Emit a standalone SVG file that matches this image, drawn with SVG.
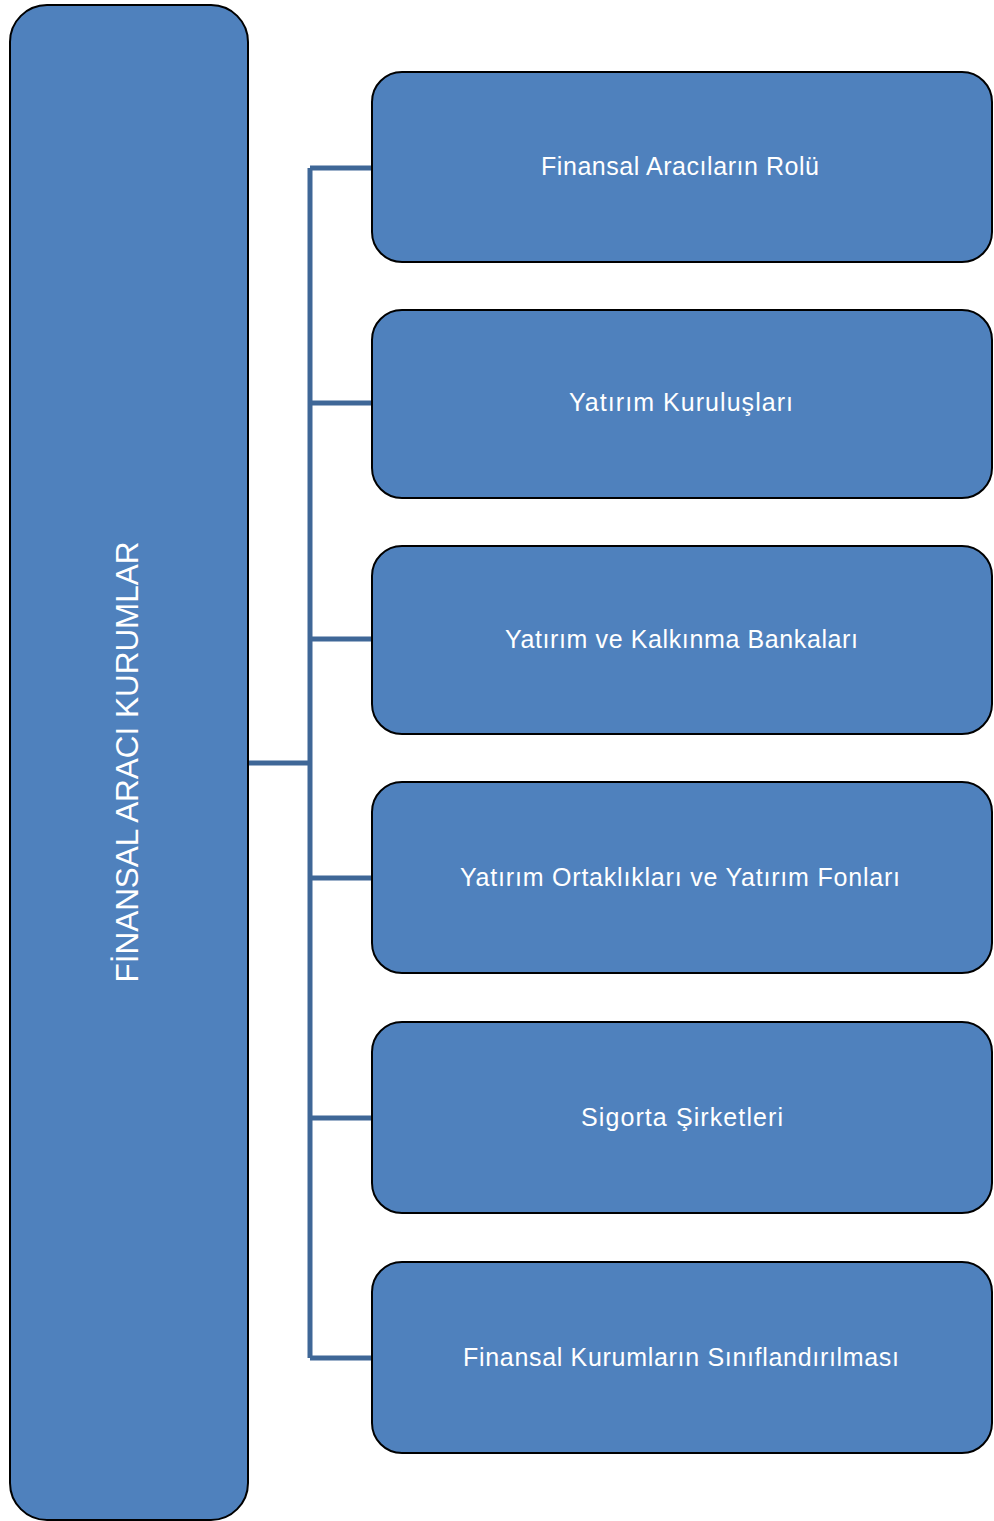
<svg xmlns="http://www.w3.org/2000/svg" width="994" height="1521" viewBox="0 0 994 1521">
<style>
.box{fill:#4F81BD;stroke:#000;stroke-width:2}
.lbl{fill:#fff;font-family:"Liberation Sans",Arial,sans-serif;font-size:25px;text-anchor:middle;dominant-baseline:central}
.big{font-size:31px}
.conn{fill:none;stroke:#3F6797;stroke-width:5}
</style>
<rect width="994" height="1521" fill="#fff"/>
<g id="connectors">
<path class="conn" d="M248 763H310M310 168V1358M310 168H372M310 403H372M310 639H372M310 878H372M310 1118H372M310 1358H372"/>
</g>
<g id="root">
<rect class="box" x="10" y="5" width="238" height="1515" rx="37"/>
<text class="lbl big" transform="translate(127 762) rotate(-90)" textLength="441" lengthAdjust="spacingAndGlyphs">FİNANSAL ARACI KURUMLAR</text>
</g>
<g id="n1">
<rect class="box" x="372" y="72" width="620" height="190" rx="30"/>
<text class="lbl" x="680" y="166" textLength="278">Finansal Aracıların Rolü</text>
</g>
<g id="n2">
<rect class="box" x="372" y="310" width="620" height="188" rx="30"/>
<text class="lbl" x="681" y="402" textLength="224">Yatırım Kuruluşları</text>
</g>
<g id="n3">
<rect class="box" x="372" y="546" width="620" height="188" rx="30"/>
<text class="lbl" x="681.5" y="639" textLength="353">Yatırım ve Kalkınma Bankaları</text>
</g>
<g id="n4">
<rect class="box" x="372" y="782" width="620" height="191" rx="30"/>
<text class="lbl" x="680" y="877" textLength="440">Yatırım Ortaklıkları ve Yatırım Fonları</text>
</g>
<g id="n5">
<rect class="box" x="372" y="1022" width="620" height="191" rx="30"/>
<text class="lbl" x="682" y="1117" textLength="202">Sigorta Şirketleri</text>
</g>
<g id="n6">
<rect class="box" x="372" y="1262" width="620" height="191" rx="30"/>
<text class="lbl" x="681" y="1357" textLength="436">Finansal Kurumların Sınıflandırılması</text>
</g>
</svg>
